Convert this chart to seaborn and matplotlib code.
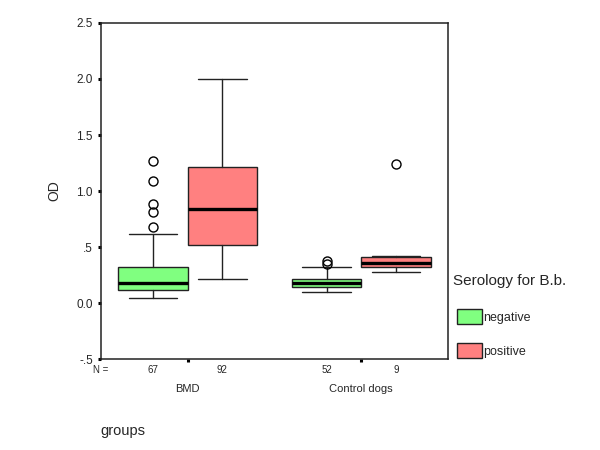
import numpy as np
import matplotlib
matplotlib.use("Agg")
import matplotlib.pyplot as plt
from matplotlib.patches import Patch
import seaborn as sns

# Style
sns.set_theme(style="white")
plt.rcParams['font.family'] = ['Liberation Sans', 'DejaVu Sans']

# --- DATA ---
groups = ["BMD", "Control dogs"]
serology = ["negative", "positive"]
n_counts = [67, 92, 52, 9]
whislo = [0.045, 0.21, 0.096, 0.28]
q1 = [0.116, 0.52, 0.146, 0.324]
med = [0.18, 0.84, 0.18, 0.354]
q3 = [0.32, 1.21, 0.214, 0.413]
whishi = [0.62, 2.0, 0.32, 0.42]
fliers = [[0.68, 0.815, 0.88, 1.09, 1.27], [], [0.35, 0.375], [1.24]]
yticks = [-0.5, 0.0, 0.5, 1.0, 1.5, 2.0, 2.5]
ytick_labels = ["-.5", "0.0", ".5", "1.0", "1.5", "2.0", "2.5"]

colors = {"negative": "#80FF80", "positive": "#FF8080"}

# one stats dict per box: group x serology
stats = []
positions = []
box_colors = []
box_w = 0.4
for gi, g in enumerate(groups):
    for si, s in enumerate(serology):
        k = gi * 2 + si
        stats.append(dict(med=med[k], q1=q1[k], q3=q3[k], whislo=whislo[k],
                          whishi=whishi[k], fliers=fliers[k], label=f"{g} {s}"))
        positions.append(gi + (si - 0.5) * box_w)
        box_colors.append(colors[s])

fig = plt.figure(figsize=(6, 4.5), dpi=100)
ax = fig.add_axes([0.1683, 0.2022, 0.5783, 0.7467])

bp = ax.bxp(stats, positions=positions, widths=box_w, capwidths=box_w * 0.7,
            patch_artist=True, manage_ticks=False,
            boxprops=dict(edgecolor="#222222", linewidth=1.0),
            whiskerprops=dict(color="#222222", linewidth=1.0),
            capprops=dict(color="#222222", linewidth=1.0),
            medianprops=dict(color="black", linewidth=2.4, solid_capstyle="butt"),
            flierprops=dict(marker="o", markerfacecolor="none", markeredgecolor="black",
                            markersize=6.5, markeredgewidth=1.0))
for patch, c in zip(bp["boxes"], box_colors):
    patch.set_facecolor(c)

ax.set_xlim(-0.5, 1.5)
ax.set_ylim(-0.5, 2.5)
ax.set_yticks(yticks)
ax.set_yticklabels(ytick_labels, fontsize=8.5)
ax.set_xticks([0, 1])
ax.set_xticklabels([])
ax.tick_params(axis="both", which="major", direction="out", length=2.2, width=2.2,
               color="black", pad=3.6, left=True, bottom=True)
for sp in ax.spines.values():
    sp.set_color("#222222")
    sp.set_linewidth(1.1)
ax.grid(False)

ax.set_ylabel("OD", fontsize=10, labelpad=11)

# N counts under each box
trans = ax.get_xaxis_transform()
ax.text(-0.5, -0.033, "N =", transform=trans, ha="center", va="center", fontsize=7)
for x, n in zip(positions, n_counts):
    ax.text(x, -0.033, str(n), transform=trans, ha="center", va="center", fontsize=7)
for gi, g in enumerate(groups):
    ax.text(gi, -0.089, g, transform=trans, ha="center", va="center", fontsize=8)
fig.text(100 / 600, 1 - 431 / 450, "groups", ha="left", va="center", fontsize=10.5)

# legend
handles = [Patch(facecolor=colors[s], edgecolor="#222222", label=s) for s in serology]
fig.text(453 / 600, 1 - 281 / 450, "Serology for B.b.", ha="left", va="center", fontsize=11)
leg = fig.legend(handles=handles, loc="upper left", bbox_to_anchor=(452 / 600, 1 - 304 / 450),
                 frameon=False, fontsize=9, handlelength=2.0, handleheight=1.5,
                 handletextpad=0.1, labelspacing=1.5, borderaxespad=0)

fig.savefig("out.png", dpi=100)
